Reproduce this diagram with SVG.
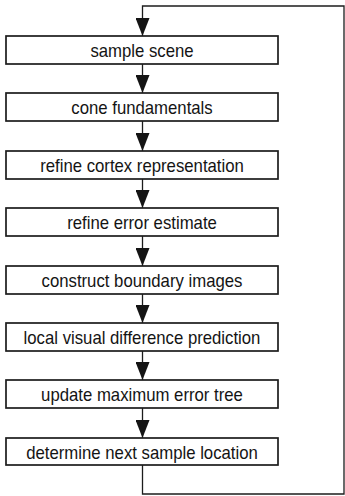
<svg xmlns="http://www.w3.org/2000/svg" width="345" height="496" viewBox="0 0 345 496">
<style>
.box{fill:#fff;stroke:#1c1c1c;stroke-width:1.7}
.lbl{font-family:"Liberation Sans",Arial,sans-serif;font-size:18.4px;fill:#141414;text-anchor:middle}
.con{fill:none;stroke:#1c1c1c;stroke-width:1.3}
</style>
<defs>
<marker id="ah" markerUnits="userSpaceOnUse" viewBox="0 -7 18 14" refX="18" refY="0" markerWidth="18" markerHeight="14" orient="auto">
<path d="M0,-7 L18,0 L0,7 Z" fill="#141414"/>
</marker>
</defs>
<rect width="345" height="496" fill="#fff"/>
<g id="connectors">
<path class="con" d="M142.5,465 V494 H344 V6 H142.5 V36" marker-end="url(#ah)"/>
<path class="con" d="M142.5,64 V93" marker-end="url(#ah)"/>
<path class="con" d="M142.5,121 V151" marker-end="url(#ah)"/>
<path class="con" d="M142.5,179 V208" marker-end="url(#ah)"/>
<path class="con" d="M142.5,236 V266" marker-end="url(#ah)"/>
<path class="con" d="M142.5,294 V323" marker-end="url(#ah)"/>
<path class="con" d="M142.5,351 V380" marker-end="url(#ah)"/>
<path class="con" d="M142.5,408 V438" marker-end="url(#ah)"/>
</g>
<g id="n1"><rect class="box" x="6" y="36" width="272" height="28"/><text class="lbl" transform="translate(142,57) scale(0.91,1)">sample scene</text></g>
<g id="n2"><rect class="box" x="6" y="93" width="272" height="28"/><text class="lbl" transform="translate(142,114) scale(0.91,1)">cone fundamentals</text></g>
<g id="n3"><rect class="box" x="6" y="151" width="272" height="28"/><text class="lbl" transform="translate(142,172) scale(0.91,1)">refine cortex representation</text></g>
<g id="n4"><rect class="box" x="6" y="208" width="272" height="28"/><text class="lbl" transform="translate(142,229) scale(0.91,1)">refine error estimate</text></g>
<g id="n5"><rect class="box" x="6" y="266" width="272" height="28"/><text class="lbl" transform="translate(142,287) scale(0.91,1)">construct boundary images</text></g>
<g id="n6"><rect class="box" x="6" y="323" width="272" height="28"/><text class="lbl" transform="translate(142,344) scale(0.91,1)">local visual difference prediction</text></g>
<g id="n7"><rect class="box" x="6" y="380" width="272" height="28"/><text class="lbl" transform="translate(142,401) scale(0.91,1)">update maximum error tree</text></g>
<g id="n8"><rect class="box" x="6" y="438" width="272" height="27"/><text class="lbl" transform="translate(142,458.5) scale(0.91,1)">determine next sample location</text></g>
</svg>
